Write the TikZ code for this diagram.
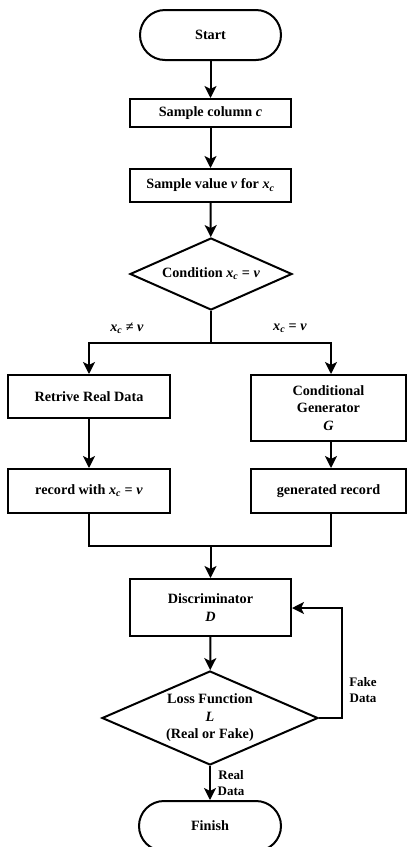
\documentclass[tikz,border=0pt]{standalone}
\usepackage{fontspec}
\setmainfont{Liberation Serif}
\usetikzlibrary{shapes.geometric,arrows.meta}

% italic variables used in the labels
\newcommand{\vx}{\textit{x}\textsubscript{\textit{c}}}
\newcommand{\vv}{\textit{v}}

\begin{document}
\begin{tikzpicture}[x=1pt,y=-1pt,line width=2pt,
  every node/.style={font=\fontsize{14.2}{17.5}\selectfont\bfseries,align=center},
  box/.style={draw,rectangle,inner sep=0pt},
  term/.style={draw,rectangle,rounded corners=25pt,minimum width=141pt,minimum height=50pt},
  decision/.style={draw,diamond,inner sep=0pt,aspect=2.3},
  flow/.style={-{Stealth[length=12pt,width=12pt,inset=3pt]}},
  lbl/.style={font=\fontsize{13}{15.5}\selectfont\bfseries}]
\useasboundingbox (0,0) rectangle (408,847);

% main column
\node[term] (start) at (210.5,35) {Start};
\node[box,minimum width=161pt,minimum height=28pt] (col) at (210.5,113) {Sample column \textit{c}};
\node[box,minimum width=161pt,minimum height=33pt] (val) at (210.5,185.5) {Sample value \vv\ for \vx};
\node[decision,minimum width=162pt,minimum height=72pt] (cond) at (211,274) {Condition \vx\ = \vv};

% two branches
\node[box,minimum width=162pt,minimum height=43pt] (real) at (89,396.5) {Retrive Real Data};
\node[box,minimum width=155pt,minimum height=66pt] (gen) at (328.5,408) {Conditional\\Generator\\\textit{G}};
\node[box,minimum width=162pt,minimum height=44pt] (rec) at (89,491) {record with \vx\ = \vv};
\node[box,minimum width=155pt,minimum height=44pt] (grec) at (328.5,491) {generated record};

% discriminator loop
\node[box,minimum width=161pt,minimum height=57pt] (disc) at (210.5,607.5) {Discriminator\\\textit{D}};
\node[decision,minimum width=216pt,minimum height=94pt] (loss) at (210,718) {Loss Function\\\textit{L}\\(Real or Fake)};
\node[term,minimum width=142pt] (finish) at (210,826) {Finish};

% edge labels
\node (ne) at (127,328) {\vx\ ≠ \vv};
\node (eq) at (290,328) {\vx\ = \vv};
\node[lbl] (fake) at (363,690) {Fake\\Data};
\node[lbl] (realdata) at (231,783) {Real\\Data};

\coordinate (split) at (211,343);
\coordinate (merge) at (210.5,546);
\coordinate (loop) at (342,608);

% connectors
\draw[flow] (start) -- (col);
\draw[flow] (col) -- (val);
\draw[flow] (val) -- (cond);
\draw (cond.south) -- (split);
\draw[flow] (split) -| (real.north);
\draw[flow] (split) -| ([xshift=2.5pt]gen.north);
\draw[flow] (real) -- (rec);
\draw[flow] ([xshift=2.5pt]gen.south) -- ([xshift=2.5pt]grec.north);
\draw (rec.south) |- (merge) -| ([xshift=2.5pt]grec.south);
\draw[flow] (merge) -- (disc.north);
\draw[flow] (disc) -- (loss);
\draw[flow] (loss.east) -| (loop) -- (loop -| disc.east);
\draw[flow] (loss.south) -- (finish.north);
\end{tikzpicture}
\end{document}
